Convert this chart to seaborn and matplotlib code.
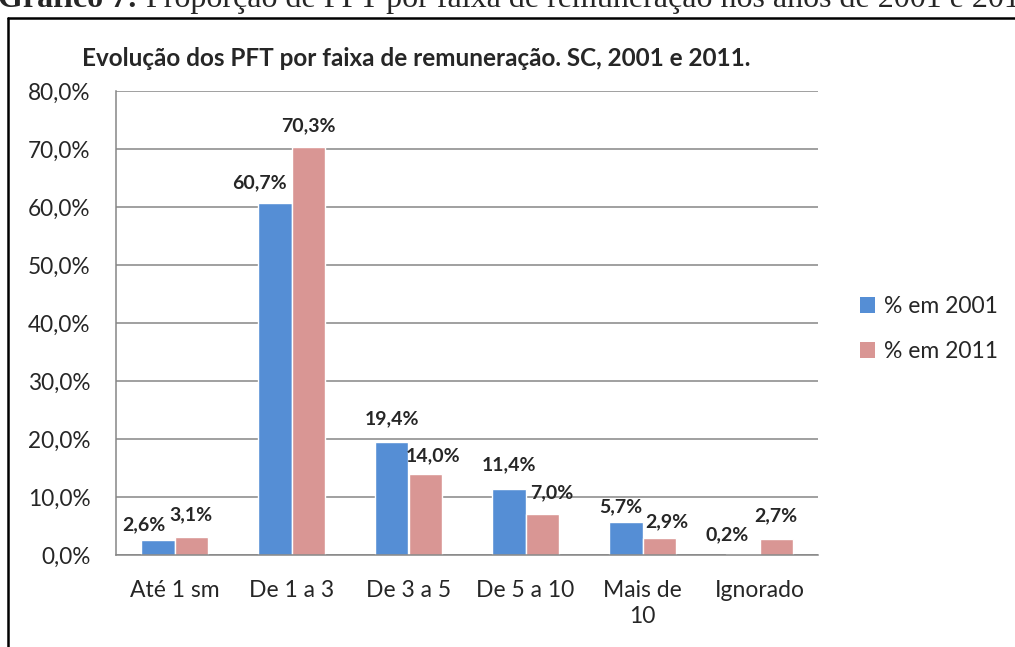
import pandas as pd
import matplotlib.pyplot as plt
import seaborn as sns
from matplotlib.lines import Line2D
from matplotlib.patches import Patch
from matplotlib.ticker import FuncFormatter, FixedLocator

faixas = ["Até 1 sm", "De 1 a 3", "De 3 a 5", "De 5 a 10", "Mais de\n10", "Ignorado"]
series = ["% em 2001", "% em 2011"]
pct_2001 = [2.6, 60.7, 19.4, 11.4, 5.7, 0.2]
pct_2011 = [3.1, 70.3, 14.0, 7.0, 2.9, 2.7]

# label nudges (pixels) to mimic the Excel placement
dx_2001 = [-14, -16, 0, 0, -5, -16]
dy_2001 = [15, 20, 24, 24, 15, 19]
dx_2011 = [0, 0, 8, 10, 8, 0]
dy_2011 = [22, 22, 18, 22, 16, 24]

df = pd.DataFrame({
    "faixa": faixas * 2,
    "serie": [series[0]] * 6 + [series[1]] * 6,
    "valor": pct_2001 + pct_2011,
})

sns.set_style("white")
plt.rcParams["font.family"] = ["Lato", "DejaVu Sans"]

blue = "#558ED5"
pink = "#D99694"
grey = "#868686"

W, H = 1015, 647
fig = plt.figure(figsize=(W / 100, H / 100), dpi=100)
ax = fig.add_axes([116 / W, 1 - 555 / H, (818 - 116) / W, (555 - 91) / H])

sns.barplot(data=df, x="faixa", y="valor", hue="serie", palette=[blue, pink],
            width=0.565, gap=0, ax=ax, legend=False, saturation=1)

ax.set_ylim(0, 80)
ax.set_xlim(-0.5, 5.5)
ax.set_yticks(range(0, 81, 10))
ax.yaxis.set_major_formatter(FuncFormatter(lambda v, p: f"{v:.1f}%".replace(".", ",")))
ax.grid(axis="y", color=grey, linewidth=1.1)
ax.set_axisbelow(True)
ax.set_xlabel("")
ax.set_ylabel("")

for side in ["top", "right"]:
    ax.spines[side].set_visible(False)
for side in ["left", "bottom"]:
    ax.spines[side].set_color(grey)
    ax.spines[side].set_linewidth(1.1)

ax.tick_params(axis="y", length=5, width=1.1, color=grey, pad=13.5, labelsize=16.3)
ax.tick_params(axis="x", which="major", length=0, pad=18, labelsize=16.5)
ax.xaxis.set_minor_locator(FixedLocator([i - 0.5 for i in range(7)]))
ax.tick_params(axis="x", which="minor", length=6, width=1.1, color=grey, direction="out")
for t in ax.get_xticklabels():
    t.set_horizontalalignment("center")
    t.set_multialignment("center")
    t.set_linespacing(1.3)

px = 0.72
for cont, dxs, dys in zip(ax.containers, [dx_2001, dx_2011], [dy_2001, dy_2011]):
    for rect, dx, dy in zip(cont, dxs, dys):
        v = rect.get_height()
        ax.annotate(f"{v:.1f}%".replace(".", ","),
                    (rect.get_x() + rect.get_width() / 2, v),
                    xytext=(dx * px, dy * px), textcoords="offset points",
                    ha="center", va="center", fontsize=14, fontweight="bold")

fig.text(416 / W, 1 - 59 / H, "Evolução dos PFT por faixa de remuneração. SC, 2001 e 2011.",
         ha="center", va="center", fontsize=17.5, fontweight="bold")

handles = [Patch(facecolor=blue, edgecolor="none"), Patch(facecolor=pink, edgecolor="none")]
fig.legend(handles, series, loc="upper left", bbox_to_anchor=(860 / W, 1 - 296 / H),
           frameon=False, fontsize=16.5, handlelength=0.65, handleheight=0.65,
           handletextpad=0.4, labelspacing=1.05, borderpad=0, borderaxespad=0)

# outer chart frame (cut by the page on the right and bottom)
fig.add_artist(Line2D([8 / W, 8 / W], [0, 1 - 18 / H], color="black", linewidth=1.8))
fig.add_artist(Line2D([8 / W, 1], [1 - 18 / H, 1 - 18 / H], color="black", linewidth=1.8))

# caption above the frame, mostly cut off at the top of the page
cap_y = 1 - 7 / H
bold_part = fig.text(-2 / W, cap_y, "Gráfico 7:", ha="left", va="baseline",
                     fontsize=23, fontweight="bold", family="Liberation Serif")
renderer = fig.canvas.get_renderer()
bb = bold_part.get_window_extent(renderer)
fig.text(bb.x1 / W, cap_y,
         " Proporção de PFT por faixa de remuneração nos anos de 2001 e 2011",
         ha="left", va="baseline", fontsize=23, family="Liberation Serif")

fig.savefig("out.png", dpi=100)
